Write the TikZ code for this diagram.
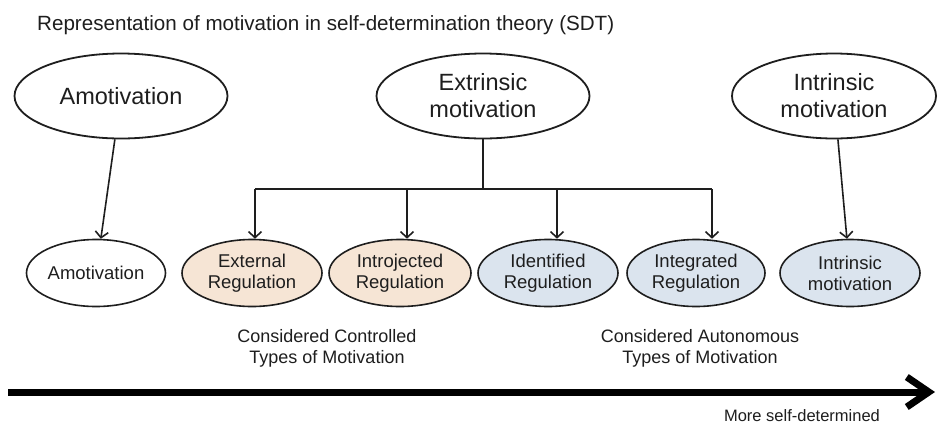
\documentclass[tikz,border=0pt]{standalone}
\usepackage{fontspec}
\setmainfont{Liberation Sans}
\usetikzlibrary{shapes.geometric,arrows.meta}
\definecolor{ink}{RGB}{30,30,30}
\definecolor{peach}{RGB}{246,229,213}
\definecolor{bluegray}{RGB}{219,228,238}
\tikzset{
  bigell/.style={ellipse,draw=ink,line width=1.8pt,inner sep=0pt,
    minimum width=213pt,minimum height=85pt,align=center,text=ink,
    font=\fontsize{23.5}{27}\selectfont},
  smallell/.style={ellipse,draw=ink,line width=1.6pt,inner sep=0pt,
    minimum width=140pt,minimum height=67pt,align=center,text=ink,
    font=\fontsize{18.5}{21}\selectfont},
  conn/.style={draw=ink,line width=1.6pt},
  arr/.style={conn,-{Straight Barb[length=6pt,width=13pt,line width=1.6pt]}},
  note/.style={align=center,text=ink,font=\fontsize{18}{21}\selectfont,inner sep=0pt},
  axis/.style={draw=black,line width=7pt,-{Straight Barb[length=22pt,width=30pt,line width=7pt]}}
}
\begin{document}
\begin{tikzpicture}[x=1pt,y=-1pt]
\useasboundingbox[fill=white] (0,0) rectangle (937,424);

\node[anchor=base west,inner sep=0pt,text=ink,font=\fontsize{20.6}{24}\selectfont] (title) at (37,30)
  {Representation of motivation in self-determination theory (SDT)};

% top ellipses
\node[bigell] (amoT) at (121,96) {Amotivation};
\node[bigell] (extT) at (483,96) {Extrinsic\\motivation};
\node[bigell,minimum width=204pt] (intT) at (834,96) {Intrinsic\\motivation};

% bottom ellipses
\node[smallell,minimum width=139pt] (amoB) at (96,273) {Amotivation};
\node[smallell,fill=peach] (ext) at (252,273) {External\\Regulation};
\node[smallell,fill=peach,minimum width=142pt] (intro) at (400,273) {Introjected\\Regulation};
\node[smallell,fill=bluegray] (ident) at (548,273) {Identified\\Regulation};
\node[smallell,fill=bluegray,minimum width=138pt] (integ) at (696,273) {Integrated\\Regulation};
\node[smallell,fill=bluegray] (intB) at (850,273) {Intrinsic\\motivation};

% connectors
\draw[arr] (amoT) -- (amoB);
\draw[arr] (intT) -- (intB);

\coordinate (jn) at (483,189);
\coordinate (b1) at (255,189);
\coordinate (b2) at (407,189);
\coordinate (b3) at (557,189);
\coordinate (b4) at (712,189);
\draw[conn] (extT.south) -- (jn);
\draw[conn] (b1) -- (b4);
\draw[arr] (b1) -- (b1 |- ext.north);
\draw[arr] (b2) -- (b2 |- intro.north);
\draw[arr] (b3) -- (b3 |- ident.north);
\draw[arr] (b4) -- (b4 |- integ.north);

% notes
\node[note] (ctrl) at (327,348) {Considered Controlled\\Types of Motivation};
\node[note] (auto) at (700,348) {Considered Autonomous\\Types of Motivation};

% axis
\coordinate (axL) at (8,392);
\coordinate (axR) at (935,392);
\draw[axis] (axL) -- (axR);
\node[anchor=base,inner sep=0pt,text=ink,font=\fontsize{16.5}{20}\selectfont] (more) at (802,421)
  {More self-determined};
\end{tikzpicture}
\end{document}
